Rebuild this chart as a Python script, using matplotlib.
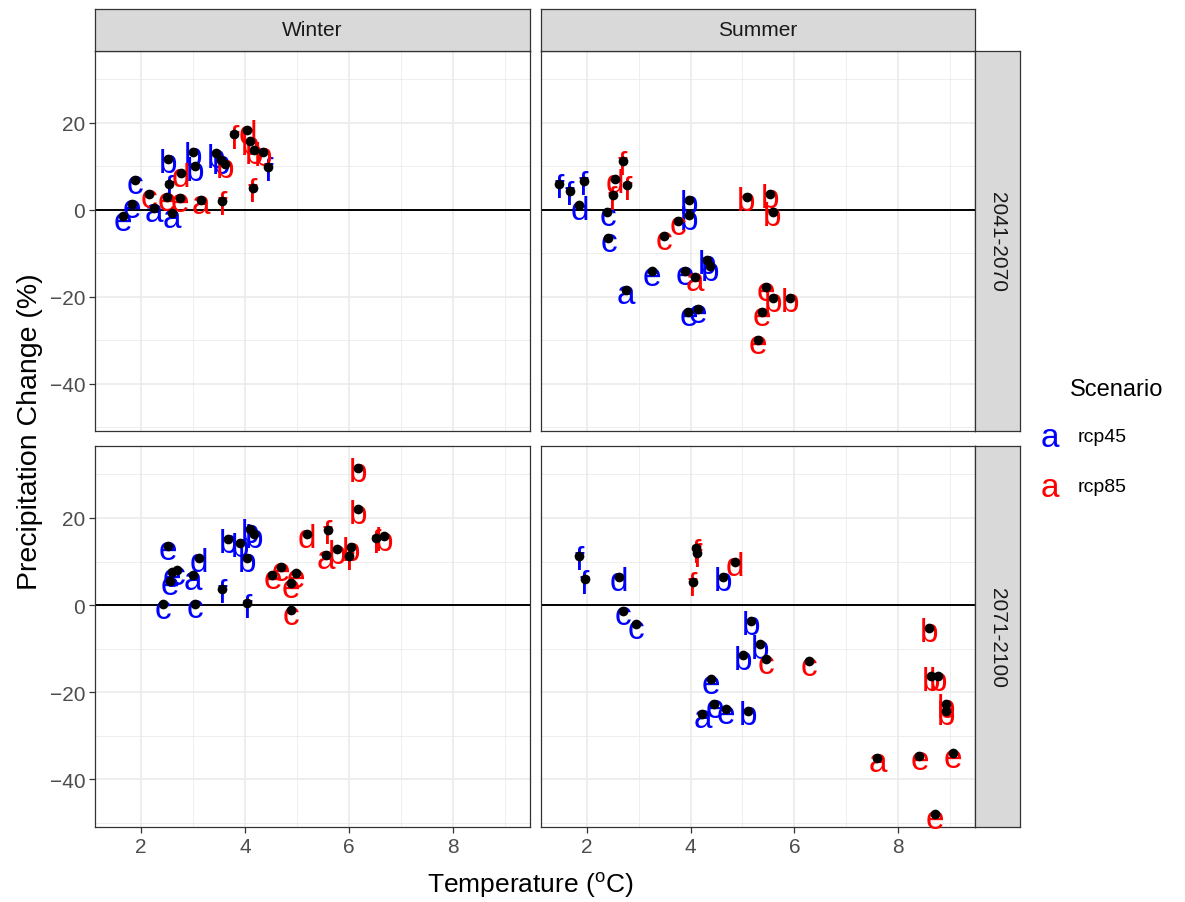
import matplotlib
matplotlib.use('Agg')
import matplotlib.pyplot as plt

plt.rcParams['font.family'] = ['Liberation Sans', 'DejaVu Sans']

seasons = ['Winter', 'Summer']
periods = ['2041-2070', '2071-2100']
scenarios = ['rcp45', 'rcp85']
scenario_colors = ['#0000FF', '#FF0000']

# ---- Winter, 2041-2070 ----
w1_45_temp = [1.65, 1.83, 1.88, 2.25, 2.52, 2.55, 2.60, 3.00, 3.05, 3.45, 3.55, 4.44]
w1_45_prec = [-1.5, 1.4, 6.8, 0.5, 11.7, 5.8, -0.8, 13.3, 10.0, 13.0, 11.5, 9.8]
w1_45_lab = ['e', 'e', 'c', 'a', 'b', 'f', 'a', 'b', 'b', 'b', 'b', 'f']
w1_85_temp = [2.15, 2.50, 2.75, 2.77, 3.15, 3.57, 3.62, 3.80, 4.05, 4.10, 4.18, 4.35, 4.15]
w1_85_prec = [3.7, 3.0, 2.8, 8.5, 2.3, 2.1, 10.5, 17.3, 18.3, 15.8, 13.8, 13.3, 5.0]
w1_85_lab = ['c', 'e', 'e', 'd', 'a', 'f', 'b', 'f', 'd', 'b', 'b', 'b', 'f']

# ---- Summer, 2041-2070 ----
s1_45_temp = [1.47, 1.67, 1.94, 1.86, 2.40, 2.42, 3.97, 3.97, 2.75, 3.25, 3.90, 4.31, 4.37, 3.96, 4.15]
s1_45_prec = [6.0, 4.4, 6.7, 1.0, -0.5, -6.4, 2.3, -1.3, -18.5, -14.2, -14.0, -11.5, -13.0, -23.5, -22.8]
s1_45_lab = ['f', 'f', 'f', 'd', 'c', 'c', 'b', 'b', 'a', 'e', 'e', 'b', 'b', 'e', 'e']
s1_85_temp = [2.69, 2.55, 2.78, 2.50, 3.49, 3.75, 5.08, 5.53, 5.58, 4.08, 5.46, 5.59, 5.91, 5.38, 5.30]
s1_85_prec = [11.3, 7.1, 5.6, 3.3, -6.0, -2.5, 3.0, 3.7, -0.5, -15.5, -17.8, -20.3, -20.3, -23.5, -30.0]
s1_85_lab = ['f', 'd', 'f', 'f', 'c', 'c', 'b', 'b', 'b', 'a', 'e', 'b', 'b', 'e', 'e']

# ---- Winter, 2071-2100 ----
w2_45_temp = [2.52, 3.12, 2.60, 2.70, 2.56, 3.00, 3.57, 2.42, 3.05, 4.05, 3.67, 3.90, 4.10, 4.18, 4.05]
w2_45_prec = [13.6, 10.8, 7.5, 8.0, 5.5, 6.8, 3.8, 0.2, 0.3, 0.4, 15.2, 14.3, 17.5, 16.3, 10.8]
w2_45_lab = ['e', 'd', 'e', 'c', 'e', 'a', 'f', 'c', 'c', 'f', 'b', 'b', 'b', 'b', 'b']
w2_85_temp = [4.53, 4.69, 4.88, 4.98, 4.88, 6.17, 6.18, 5.20, 5.59, 5.55, 5.77, 6.04, 6.00, 6.52, 6.68]
w2_85_prec = [6.9, 8.8, 5.0, 7.3, -1.2, 31.5, 22.0, 16.3, 17.2, 11.5, 12.8, 13.4, 11.3, 15.3, 15.8]
w2_85_lab = ['e', 'e', 'e', 'e', 'c', 'b', 'b', 'd', 'f', 'a', 'b', 'b', 'f', 'f', 'b']

# ---- Summer, 2071-2100 ----
s2_45_temp = [1.86, 1.96, 2.62, 2.69, 2.95, 4.63, 5.16, 5.34, 5.02, 4.39, 4.23, 4.46, 4.68, 5.10]
s2_45_prec = [11.3, 5.9, 6.5, -1.3, -4.4, 6.5, -3.6, -9.0, -11.5, -17.0, -24.9, -22.6, -23.9, -24.3]
s2_45_lab = ['f', 'f', 'd', 'c', 'c', 'b', 'b', 'b', 'b', 'e', 'a', 'e', 'e', 'b']
s2_85_temp = [4.10, 4.12, 4.04, 4.86, 5.45, 6.28, 8.60, 8.63, 8.76, 8.92, 8.92, 7.60, 8.41, 9.05, 8.70]
s2_85_prec = [13.0, 12.0, 5.4, 10.0, -12.4, -12.9, -5.2, -16.3, -16.3, -22.6, -24.3, -35.0, -34.6, -34.0, -48.0]
s2_85_lab = ['f', 'f', 'f', 'd', 'c', 'c', 'b', 'b', 'b', 'b', 'b', 'a', 'e', 'e', 'e']

x_ticks = [2, 4, 6, 8]
y_ticks = [-40, -20, 0, 20]

panels = {
    (0, 0): [(w1_45_temp, w1_45_prec, w1_45_lab), (w1_85_temp, w1_85_prec, w1_85_lab)],
    (0, 1): [(s1_45_temp, s1_45_prec, s1_45_lab), (s1_85_temp, s1_85_prec, s1_85_lab)],
    (1, 0): [(w2_45_temp, w2_45_prec, w2_45_lab), (w2_85_temp, w2_85_prec, w2_85_lab)],
    (1, 1): [(s2_45_temp, s2_45_prec, s2_45_lab), (s2_85_temp, s2_85_prec, s2_85_lab)],
}

W, H = 1185, 903
fig = plt.figure(figsize=(W / 100, H / 100), dpi=100)

col_x = [95, 541]
col_w = [435, 434]
row_y = [52, 447]
row_h = [380, 381]

LABEL_FS = 24
TICK_FS = 15

def fx(px):
    return px / W

def fy(py):
    return 1 - py / H

for (r, c), groups in panels.items():
    ax = fig.add_axes([fx(col_x[c]), fy(row_y[r] + row_h[r]), col_w[c] / W, row_h[r] / H])
    ax.set_xlim(1.12, 9.48)
    ax.set_ylim(-50.9, 36.5)
    ax.set_xticks(x_ticks)
    ax.set_xticks([3, 5, 7, 9], minor=True)
    ax.set_yticks(y_ticks)
    ax.set_yticks([-50, -30, -10, 10, 30], minor=True)
    ax.grid(which='major', color='#EBEBEB', lw=1.2)
    ax.grid(which='minor', color='#EBEBEB', lw=0.6)
    ax.set_axisbelow(True)
    for s in ax.spines.values():
        s.set_color('#333333')
        s.set_linewidth(0.9)
    ax.tick_params(which='major', direction='out', length=4, width=0.9, color='#333333',
                   labelsize=TICK_FS, labelcolor='#4D4D4D', pad=3)
    ax.tick_params(which='minor', length=0)
    if r == 0:
        ax.tick_params(axis='x', which='both', labelbottom=False, length=0)
    if c == 1:
        ax.tick_params(axis='y', which='both', labelleft=False, length=0)
    ax.axhline(0, color='black', lw=1.4, zorder=1.5)

    for (tx, py, lab), col in zip(groups, scenario_colors):
        for xx, yy, ll in zip(tx, py, lab):
            ax.annotate(ll, xy=(xx, yy), xytext=(0, -0.4 * LABEL_FS), textcoords='offset points',
                        ha='center', va='baseline', fontsize=LABEL_FS, color=col, zorder=3)
    for (tx, py, lab), col in zip(groups, scenario_colors):
        ax.plot(tx, py, 'o', color='black', ms=7, mew=0, zorder=4, linestyle='none')

# strips
for c in range(2):
    sax = fig.add_axes([fx(col_x[c]), fy(52), col_w[c] / W, 42 / H])
    sax.set_facecolor('#D9D9D9')
    sax.set_xticks([]); sax.set_yticks([])
    for s in sax.spines.values():
        s.set_color('#333333'); s.set_linewidth(0.9)
    sax.text(0.5, 0.5, seasons[c], ha='center', va='center', fontsize=TICK_FS,
             color='#1A1A1A', transform=sax.transAxes)
for r in range(2):
    sax = fig.add_axes([fx(975), fy(row_y[r] + row_h[r]), 45 / W, row_h[r] / H])
    sax.set_facecolor('#D9D9D9')
    sax.set_xticks([]); sax.set_yticks([])
    for s in sax.spines.values():
        s.set_color('#333333'); s.set_linewidth(0.9)
    sax.text(0.5, 0.5, periods[r], ha='center', va='center', fontsize=TICK_FS,
             color='#1A1A1A', rotation=-90, transform=sax.transAxes)

# axis titles
fig.text(fx(530), fy(886), 'Temperature ($\\mathregular{^{o}}$C)', ha='center', va='center',
         fontsize=19, color='black')
fig.text(fx(30), fy(432), 'Precipitation Change (%)', ha='center', va='center',
         fontsize=20.5, color='black', rotation=90)

# legend
fig.text(fx(1070), fy(390), 'Scenario', ha='left', va='center', fontsize=17, color='black')
for i, (name, col) in enumerate(zip(scenarios, scenario_colors)):
    yy = 438 + i * 50
    fig.text(fx(1050), fy(yy + 9), 'a', ha='center', va='baseline',
             fontsize=LABEL_FS, color=col)
    fig.text(fx(1078), fy(yy), name, ha='left', va='center', fontsize=14, color='black')

fig.savefig('out.png', dpi=100)
